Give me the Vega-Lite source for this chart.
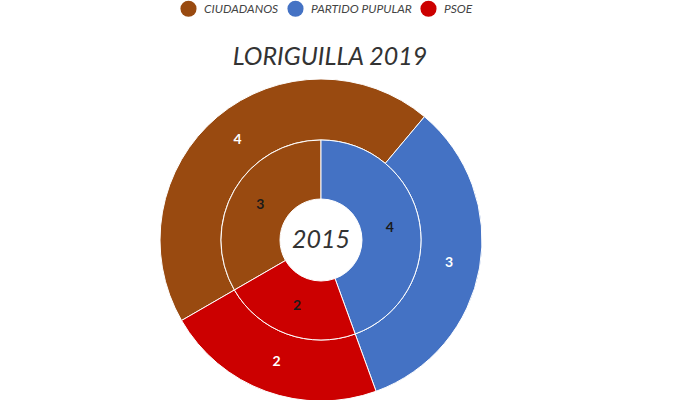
{
  "$schema": "https://vega.github.io/schema/vega-lite/v6.json",
  "autosize": {"type": "none"},
  "padding": {"top": 80, "left": 0, "right": 38, "bottom": 0},
  "width": 642,
  "height": 320,
  "background": "white",
  "title": {
    "text": "LORIGUILLA 2019",
    "font": "Lato",
    "fontStyle": "italic",
    "fontWeight": "normal",
    "fontSize": 25,
    "color": "#333333",
    "anchor": "middle",
    "offset": -70,
    "dx": 9
  },
  "datasets": {
    "seats": [
      {"year": "2019", "party": "CIUDADANOS", "seats": 4},
      {"year": "2019", "party": "PARTIDO PUPULAR", "seats": 3},
      {"year": "2019", "party": "PSOE", "seats": 2},
      {"year": "2015", "party": "CIUDADANOS", "seats": 3},
      {"year": "2015", "party": "PARTIDO PUPULAR", "seats": 4},
      {"year": "2015", "party": "PSOE", "seats": 2}
    ],
    "centre": [{"label": "2015"}]
  },
  "layer": [
    {
      "data": {"name": "seats"},
      "transform": [{"filter": "datum.year == '2019'"}],
      "mark": {"type": "arc", "radius": 161, "radius2": 100, "stroke": "#ffffff", "strokeWidth": 1},
      "encoding": {
        "theta": {"field": "seats", "type": "quantitative", "stack": true, "scale": {"range": [4.18879, 10.47198]}},
        "order": {"field": "party", "type": "nominal", "sort": "ascending"},
        "color": {
          "field": "party",
          "type": "nominal",
          "scale": {
            "domain": ["CIUDADANOS", "PARTIDO PUPULAR", "PSOE"],
            "range": ["#994a10", "#4472c4", "#cc0000"]
          },
          "legend": {
            "orient": "none",
            "legendX": 180,
            "legendY": -80,
            "direction": "horizontal",
            "title": null,
            "symbolType": "circle",
            "symbolSize": 260,
            "symbolStrokeWidth": 0,
            "labelFont": "Lato",
            "labelFontStyle": "italic",
            "labelFontSize": 12,
            "labelColor": "#444444",
            "labelOffset": 7,
            "columnPadding": 8
          }
        }
      }
    },
    {
      "data": {"name": "seats"},
      "transform": [{"filter": "datum.year == '2015'"}],
      "mark": {"type": "arc", "radius": 100, "radius2": 41, "stroke": "#ffffff", "strokeWidth": 1},
      "encoding": {
        "theta": {"field": "seats", "type": "quantitative", "stack": true},
        "order": {"field": "party", "type": "nominal", "sort": "ascending"},
        "color": {"field": "party", "type": "nominal"}
      }
    },
    {
      "data": {"name": "seats"},
      "transform": [{"filter": "datum.year == '2019'"}],
      "mark": {"type": "text", "radius": 130, "font": "Lato", "fontWeight": "bold", "fontSize": 14},
      "encoding": {
        "theta": {"field": "seats", "type": "quantitative", "stack": true},
        "order": {"field": "party", "type": "nominal", "sort": "ascending"},
        "color": {"field": "party", "type": "nominal"},
        "fill": {"value": "#ffffff"},
        "text": {"field": "seats", "type": "quantitative"}
      }
    },
    {
      "data": {"name": "seats"},
      "transform": [{"filter": "datum.year == '2015'"}],
      "mark": {"type": "text", "radius": 70, "font": "Lato", "fontWeight": "bold", "fontSize": 14},
      "encoding": {
        "theta": {"field": "seats", "type": "quantitative", "stack": true},
        "order": {"field": "party", "type": "nominal", "sort": "ascending"},
        "color": {"field": "party", "type": "nominal"},
        "fill": {"value": "#1a1a1a"},
        "text": {"field": "seats", "type": "quantitative"}
      }
    },
    {
      "data": {"name": "centre"},
      "mark": {"type": "text", "font": "Lato", "fontStyle": "italic", "fontSize": 25, "fill": "#333333"},
      "encoding": {
        "text": {"field": "label", "type": "nominal"}
      }
    }
  ]
}
